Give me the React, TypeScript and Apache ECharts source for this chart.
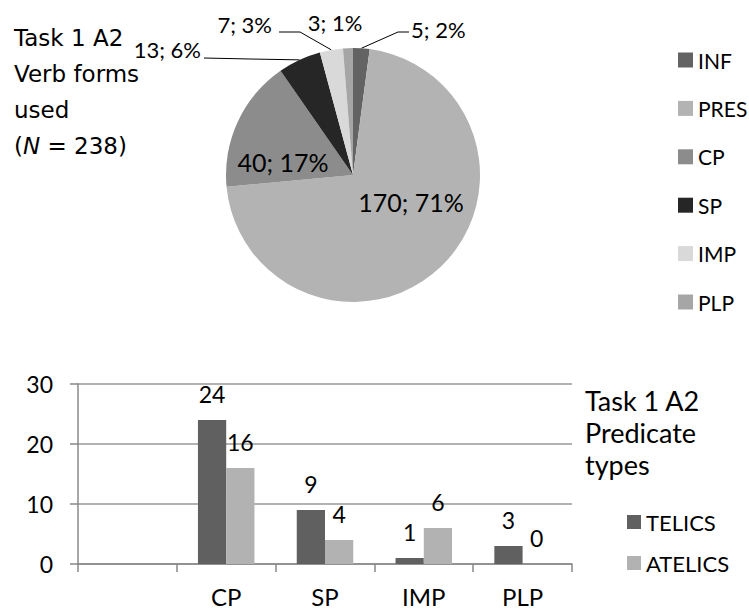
import React, { useEffect, useRef } from "react";
import * as echarts from "echarts";

// ---- Data ----
const verbForms = ["INF", "PRES", "CP", "SP", "IMP", "PLP"];
const verbCounts = [5, 170, 40, 13, 7, 3];
const verbColors = ["#636363", "#b3b3b3", "#8c8c8c", "#262626", "#d9d9d9", "#a6a6a6"];

const predicateCategories = ["", "CP", "SP", "IMP", "PLP"];
const telicsValues = [null, 24, 9, 1, 3];
const atelicsValues = [null, 16, 4, 6, 0];
const seriesNames = ["TELICS", "ATELICS"];
const seriesColors = ["#606060", "#b2b2b2"];

const pieTitle = "Task 1 A2\nVerb forms\nused\n({i|N} = 238)";
const barTitle = "Task 1 A2\nPredicate\ntypes";

// ---- Layout of pie labels (positions only) ----
const pieLabelSpots: any[] = [
  { x: 411, y: 29, align: "left", elbow: [398, 32], end: [409, 32] },
  { x: 411, y: 202, align: "center" },
  { x: 283, y: 162, align: "center" },
  { x: 201, y: 49, align: "right", elbow: [250, 59], end: [204, 58] },
  { x: 272, y: 24, align: "right", elbow: [300, 32], end: [279, 32] },
  { x: 335, y: 22, align: "center" },
];
const insideIdx = [1, 2];

const FONT = "Lato, 'Noto Sans', sans-serif";

export default function App() {
  const ref = useRef<HTMLDivElement>(null);
  useEffect(() => {
    if (!ref.current) return;
    const chart = echarts.init(ref.current, undefined, { renderer: "svg" });
    const option: any = {
      animation: false,
      backgroundColor: "#ffffff",
      textStyle: { fontFamily: FONT },
      title: [
        {
          text: pieTitle,
          left: 9,
          top: 15,
          textStyle: {
            fontFamily: "'DejaVu Sans', sans-serif",
            fontSize: 23,
            lineHeight: 36,
            fontWeight: "normal",
            color: "#000",
            rich: {
              i: {
                fontFamily: "'DejaVu Sans', sans-serif",
                fontStyle: "italic",
                fontSize: 23,
                lineHeight: 36,
                color: "#000",
              },
            },
          },
        },
        {
          text: barTitle,
          left: 580,
          top: 379,
          textStyle: {
            fontFamily: FONT,
            fontSize: 27,
            lineHeight: 32,
            fontWeight: "normal",
            color: "#000",
          },
        },
      ],
      legend: [
        {
          data: verbForms,
          orient: "vertical",
          left: 673,
          top: 43,
          itemWidth: 15,
          itemHeight: 15,
          itemGap: 24.4,
          icon: "rect",
          textStyle: { fontFamily: FONT, fontSize: 21, lineHeight: 24, color: "#000" },
        },
        {
          data: seriesNames,
          orient: "vertical",
          left: 622,
          top: 505,
          itemWidth: 14,
          itemHeight: 14,
          itemGap: 17,
          icon: "rect",
          textStyle: { fontFamily: FONT, fontSize: 22, lineHeight: 24, color: "#000" },
        },
      ],
      grid: { left: 78, right: 177, top: 384, bottom: 47, containLabel: false },
      xAxis: {
        type: "category",
        data: predicateCategories,
        axisLine: { show: true, lineStyle: { color: "#888", width: 1.5 } },
        axisTick: { show: true, length: 8, interval: 0, lineStyle: { color: "#888", width: 1.5 } },
        axisLabel: { fontFamily: FONT, fontSize: 24, color: "#000", margin: 20, interval: 0 },
      },
      yAxis: {
        type: "value",
        min: 0,
        max: 30,
        interval: 10,
        axisLine: { show: true, lineStyle: { color: "#888", width: 1.5 } },
        axisTick: { show: true, length: 8, lineStyle: { color: "#888", width: 1.5 } },
        splitLine: { show: true, lineStyle: { color: "#999", width: 1.5 } },
        axisLabel: { fontFamily: FONT, fontSize: 23, color: "#000", margin: 25 },
      },
      series: [
        {
          type: "pie",
          center: [353, 175],
          radius: 127,
          startAngle: 90,
          clockwise: true,
          avoidLabelOverlap: false,
          percentPrecision: 0,
          label: {
            show: true,
            formatter: "{c}; {d}%",
            fontFamily: FONT,
            fontSize: 22,
            color: "#000",
          },
          labelLine: { show: true, lineStyle: { color: "#000", width: 1 } },
          data: verbForms.map((name, i) => ({
            name,
            value: verbCounts[i],
            itemStyle: { color: verbColors[i] },
            label: insideIdx.includes(i)
              ? { position: "inside", fontSize: 25 }
              : { position: "outside" },
            labelLine: { show: !insideIdx.includes(i) && !!pieLabelSpots[i].elbow },
          })),
          labelLayout: (params: any) => {
            const s = pieLabelSpots[params.dataIndex];
            const out: any = { x: s.x, y: s.y, align: s.align, verticalAlign: "middle" };
            if (s.elbow && params.labelLinePoints && params.labelLinePoints[0]) {
              out.labelLinePoints = [params.labelLinePoints[0], s.elbow, s.end];
            }
            return out;
          },
        },
        ...seriesNames.map((name, k) => ({
          type: "bar",
          name,
          data: k === 0 ? telicsValues : atelicsValues,
          barWidth: "28.6%",
          barGap: "0%",
          itemStyle: { color: seriesColors[k] },
          label: {
            show: true,
            position: "top",
            distance: 15,
            fontFamily: FONT,
            fontSize: 23,
            color: "#000",
          },
        })),
      ],
    };
    chart.setOption(option);
    return () => chart.dispose();
  }, []);
  return (
    <div
      ref={ref}
      style={{ position: "absolute", left: 0, top: 0, width: 749, height: 611 }}
    />
  );
}
